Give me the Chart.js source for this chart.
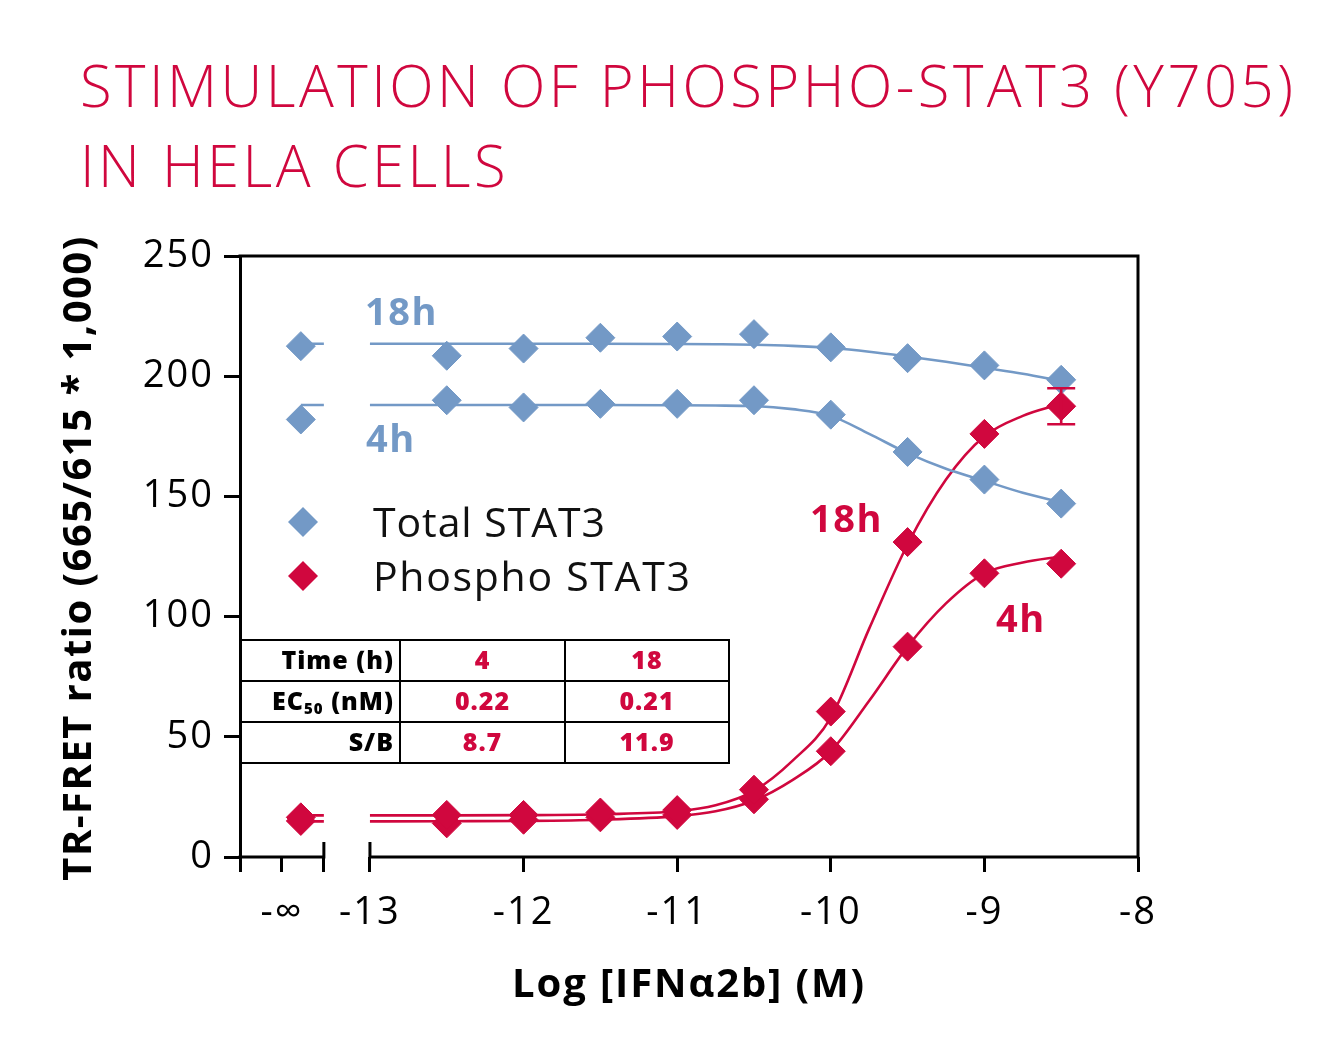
<!DOCTYPE html>
<html><head><meta charset="utf-8">
<script src="https://cdn.jsdelivr.net/npm/chart.js@4.4.1/dist/chart.umd.min.js"></script>
<style>html,body{margin:0;padding:0;background:#fff;}#wrap{width:1341px;height:1053px;position:relative;}</style>
</head><body><div id="wrap"><canvas id="c" width="1341" height="1053"></canvas></div>
<script>
const RED = '#D0073E', BLUE = '#7399C6';
const FONT = "'Open Sans', 'DejaVu Sans', sans-serif";

// ---- data ----
const titleLines = ['STIMULATION OF PHOSPHO-STAT3 (Y705)', 'IN HELA CELLS'];
const yTitle = 'TR-FRET ratio (665/615 * 1,000)';
const xTitle = 'Log [IFNα2b] (M)';
const seriesNames = ['Total STAT3', 'Phospho STAT3'];
const blankLabel = '-∞';

const doseLogs = [-12.5, -12, -11.5, -11, -10.5, -10, -9.5, -9, -8.5];
const total18hBlank = 212.5;
const total18h = [208.5, 211.5, 216, 216.5, 217.5, 212, 207.5, 204.5, 198.5];
const total4hBlank = 182;
const total4h = [190, 187, 188.5, 188.5, 190, 184, 168.5, 157, 147];
const phospho18hBlank = 16.5;
const phospho18h = [17.5, 17.5, 18.5, 19.5, 28, 60.5, 131, 176, 187.5];
const phospho4hBlank = 15;
const phospho4h = [14, 15.5, 16.5, 17.5, 24, 44, 87.5, 118, 122];
const phospho18hErr = [0, 0, 0, 0, 0, 0, 0, 0, 7.5];

// fitted curves
const fitLogs = [-13, -12.5, -12, -11.5, -11, -10.75, -10.5, -10.25, -10, -9.75, -9.5, -9.25, -9, -8.75, -8.5];
const total18hFit = [213.5, 213.5, 213.5, 213.5, 213.4, 213.3, 213.1, 212.6, 211.7, 210.2, 208.2, 206, 203.5, 201, 198];
const total4hFit = [188, 188, 188, 188, 187.9, 187.8, 187.6, 186.3, 183.5, 176, 168, 161.5, 156.5, 151.5, 147.5];
const phospho18hFit = [17.3, 17.3, 17.4, 17.8, 19, 21.5, 27.5, 40, 58, 95, 130, 157, 175, 183.5, 188.5];
const phospho4hFit = [14.8, 14.9, 15, 15.5, 17, 19, 23.5, 32, 44, 65, 87.5, 105.5, 118, 122.5, 125];

const tableRows = [['Time (h)', '4', '18'], ['EC|50| (nM)', '0.22', '0.21'], ['S/B', '8.7', '11.9']];
const curveLabels = [
  {text: '18h', color: BLUE}, {text: '4h', color: BLUE},
  {text: '18h', color: RED}, {text: '4h', color: RED}
];

const yTicks = [0, 50, 100, 150, 200, 250];
const xTickLabels = [-13, -12, -11, -10, -9, -8];

// ---- axis geometry (values, not pixels) ----
const AXIS_MIN = -13.846, NEG_INF_TICK = -13.573, SEG_END = -13.30, NEG_INF_X = -13.45, AXIS_MAX = -8;

function pts(blank, vals) {
  return [{x: NEG_INF_X, y: blank}].concat(doseLogs.map((d, i) => ({x: d, y: vals[i]})));
}
function fitPts(vals) {
  return [{x: NEG_INF_X, y: vals[0]}, {x: SEG_END, y: vals[0]}, {x: (SEG_END - 13) / 2, y: null}]
    .concat(fitLogs.map((d, i) => ({x: d, y: vals[i]})));
}
function lineDs(vals, color) {
  return {type: 'line', data: fitPts(vals), borderColor: color, borderWidth: 2.6, pointRadius: 0,
    cubicInterpolationMode: 'monotone', spanGaps: false, fill: false, order: 2};
}
function ptDs(label, blank, vals, color) {
  return {type: 'scatter', label, data: pts(blank, vals), backgroundColor: color, borderColor: color,
    borderWidth: 1, pointStyle: 'rectRot', pointRadius: 14.5, pointHoverRadius: 14.5, showLine: false, order: 1};
}

function spaced(ctx, text, target) {
  ctx.letterSpacing = '0px';
  const w = ctx.measureText(text).width;
  ctx.letterSpacing = ((target - w) / Math.max(1, text.length - 1)).toFixed(2) + 'px';
}

const decor = {
  id: 'decor',
  beforeDraw(chart) { chart.ctx.letterSpacing = '2px'; },
  afterDatasetsDraw(chart) {
    const ctx = chart.ctx, xs = chart.scales.x, ys = chart.scales.y;
    ctx.save();
    ctx.strokeStyle = RED; ctx.lineWidth = 2.6;
    phospho18hErr.forEach((e, i) => {
      if (!e) return;
      const x = xs.getPixelForValue(doseLogs[i]);
      const yt = ys.getPixelForValue(phospho18h[i] + e), yb = ys.getPixelForValue(phospho18h[i] - e);
      ctx.beginPath();
      ctx.moveTo(x, yt); ctx.lineTo(x, yb);
      ctx.moveTo(x - 14, yt); ctx.lineTo(x + 14, yt);
      ctx.moveTo(x - 14, yb); ctx.lineTo(x + 14, yb);
      ctx.stroke();
    });
    ctx.restore();
  },
  afterDraw(chart) {
    const ctx = chart.ctx, xs = chart.scales.x, ys = chart.scales.y, a = chart.chartArea;
    ctx.save();
    ctx.strokeStyle = '#000'; ctx.lineWidth = 3; ctx.lineCap = 'butt';
    const b = a.bottom;
    ctx.beginPath();
    ctx.moveTo(a.left - 1.5, b); ctx.lineTo(xs.getPixelForValue(SEG_END) + 1.5, b);
    ctx.moveTo(xs.getPixelForValue(-13) - 1.5, b); ctx.lineTo(a.right + 1.5, b);
    [SEG_END, -13].forEach(v => { const x = xs.getPixelForValue(v); ctx.moveTo(x, b - 15); ctx.lineTo(x, b); });
    ctx.moveTo(a.left - 1.5, a.top); ctx.lineTo(a.right + 1.5, a.top);
    ctx.moveTo(a.right, a.top); ctx.lineTo(a.right, b);
    ctx.stroke();

    // title
    ctx.fillStyle = RED;
    ctx.font = `300 58px ${FONT}`;
    ctx.textBaseline = 'alphabetic'; ctx.textAlign = 'left';
    spaced(ctx, titleLines[0], 1213);
    ctx.fillText(titleLines[0], 80, 107);
    ctx.fillText(titleLines[1], 80, 187);

    // axis titles
    ctx.fillStyle = '#000';
    ctx.font = `700 40px ${FONT}`;
    ctx.textAlign = 'center'; ctx.textBaseline = 'middle';
    spaced(ctx, xTitle, 352);
    ctx.fillText(xTitle, (a.left + a.right) / 2, 986);
    ctx.save();
    ctx.translate(80, 558); ctx.rotate(-Math.PI / 2);
    spaced(ctx, yTitle, 644);
    ctx.fillText(yTitle, 0, 0);
    ctx.restore();
    ctx.textAlign = 'left';

    // legend
    const legY = [522, 576], legColors = [BLUE, RED], legW = [232, 317];
    seriesNames.forEach((n, i) => {
      ctx.fillStyle = legColors[i];
      ctx.beginPath();
      ctx.moveTo(303 - 15, legY[i]); ctx.lineTo(303, legY[i] - 15); ctx.lineTo(303 + 15, legY[i]); ctx.lineTo(303, legY[i] + 15);
      ctx.closePath(); ctx.fill();
      ctx.fillStyle = '#111';
      ctx.font = `400 41px ${FONT}`;
      ctx.textBaseline = 'middle';
      spaced(ctx, n, legW[i]);
      ctx.fillText(n, 373, legY[i] + 3);
    });

    // curve labels
    const labPos = [[365, 314], [366, 441], [810, 521], [996, 621]];
    ctx.font = `700 38px ${FONT}`; ctx.textBaseline = 'middle';
    ctx.letterSpacing = '1.5px';
    curveLabels.forEach((l, i) => { ctx.fillStyle = l.color; ctx.fillText(l.text, labPos[i][0], labPos[i][1]); });

    // table
    const tx = [a.left, 400, 565, 729], ty = [640, 681, 722, 763];
    ctx.strokeStyle = '#000'; ctx.lineWidth = 2;
    ctx.beginPath();
    ty.forEach(y => { ctx.moveTo(tx[0], y); ctx.lineTo(tx[3] + 1, y); });
    tx.slice(1).forEach(x => { ctx.moveTo(x, ty[0]); ctx.lineTo(x, ty[3]); });
    ctx.stroke();
    ctx.textBaseline = 'middle';
    ctx.letterSpacing = '1px';
    tableRows.forEach((r, ri) => {
      const cy = (ty[ri] + ty[ri + 1]) / 2 + 1;
      ctx.fillStyle = '#000';
      const parts = r[0].split('|');
      const big = `800 25px ${FONT}`, small = `800 15px ${FONT}`;
      const widths = parts.map((p, k) => { ctx.font = k === 1 ? small : big; return ctx.measureText(p).width; });
      let x = tx[1] - 6 - widths.reduce((s, v) => s + v, 0);
      ctx.textAlign = 'left';
      parts.forEach((p, k) => {
        ctx.font = k === 1 ? small : big;
        ctx.fillText(p, x, k === 1 ? cy + 7 : cy);
        x += widths[k];
      });
      ctx.fillStyle = RED; ctx.font = big; ctx.textAlign = 'center';
      ctx.fillText(r[1], (tx[1] + tx[2]) / 2, cy);
      ctx.fillText(r[2], (tx[2] + tx[3]) / 2, cy);
    });
    ctx.restore();
    ctx.letterSpacing = '0px';
  }
};

new Chart(document.getElementById('c'), {
  data: {
    datasets: [
      ptDs(seriesNames[0] + ' 18h', total18hBlank, total18h, BLUE),
      ptDs(seriesNames[0] + ' 4h', total4hBlank, total4h, BLUE),
      ptDs(seriesNames[1] + ' 18h', phospho18hBlank, phospho18h, RED),
      ptDs(seriesNames[1] + ' 4h', phospho4hBlank, phospho4h, RED),
      lineDs(total18hFit, BLUE), lineDs(total4hFit, BLUE),
      lineDs(phospho18hFit, RED), lineDs(phospho4hFit, RED)
    ]
  },
  options: {
    responsive: false, animation: false, events: [],
    layout: {padding: {top: 256, right: 203, left: 0, bottom: 0}},
    plugins: {legend: {display: false}, tooltip: {enabled: false}, title: {display: false}},
    scales: {
      x: {
        type: 'linear', min: AXIS_MIN, max: AXIS_MAX,
        afterBuildTicks: s => { s.ticks = [AXIS_MIN, NEG_INF_TICK, SEG_END].concat(xTickLabels).map(v => ({value: v})); },
        afterFit: s => { s.height = 196; },
        ticks: {
          autoSkip: false, maxRotation: 0, padding: 18, color: '#000',
          font: {family: FONT, size: 38, weight: '400'},
          callback: v => v === NEG_INF_TICK ? blankLabel : (xTickLabels.includes(v) ? String(v) : '')
        },
        grid: {drawOnChartArea: false, drawTicks: true, tickLength: 15, lineWidth: 3, color: '#000'},
        border: {display: false},
        title: {display: false}
      },
      y: {
        type: 'linear', min: 0, max: 250,
        afterBuildTicks: s => { s.ticks = yTicks.map(v => ({value: v})); },
        afterFit: s => { s.width = 240; },
        ticks: {padding: 10, color: '#000', font: {family: FONT, size: 38, weight: '400'}},
        grid: {drawOnChartArea: false, drawTicks: true, tickLength: 16, lineWidth: 3, color: '#000'},
        border: {display: true, width: 3, color: '#000'},
        title: {display: false}
      }
    }
  },
  plugins: [decor]
});
</script></body></html>
